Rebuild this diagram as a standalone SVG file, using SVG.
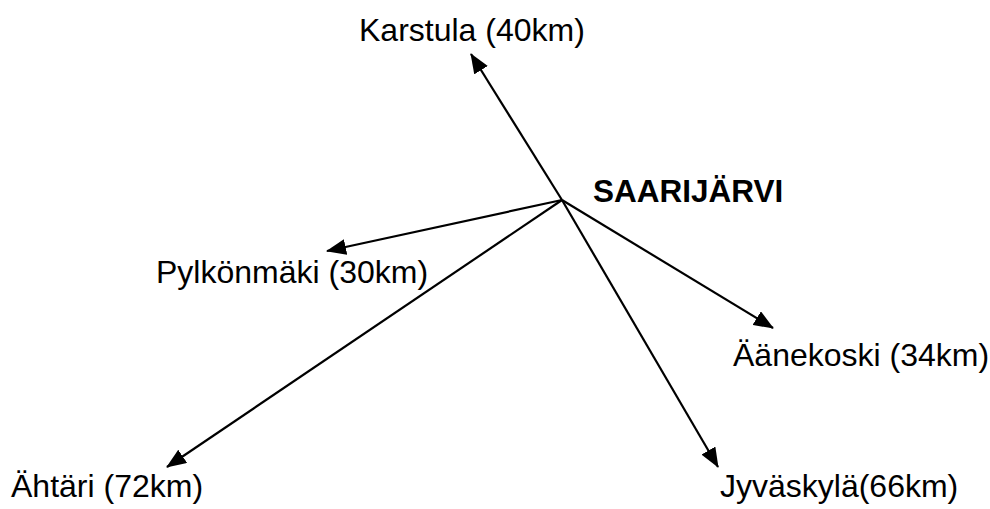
<svg xmlns="http://www.w3.org/2000/svg" width="990" height="509" viewBox="0 0 990 509">
<style>
.lbl{font-family:"Liberation Sans",Arial,sans-serif;font-size:32px;fill:#000}
.b{font-weight:bold;font-size:31.5px}
.c{stroke:#000;stroke-width:2.2;fill:none;marker-end:url(#ah)}
</style>
<defs>
<marker id="ah" markerUnits="userSpaceOnUse" markerWidth="20" markerHeight="16" refX="19" refY="8" orient="auto" viewBox="0 0 20 16">
<path d="M0,0 L20,8 L0,16 z" fill="#000"/>
</marker>
</defs>
<rect width="990" height="509" fill="#fff"/>
<g id="connectors">
<line class="c" x1="562" y1="200" x2="471" y2="54"/>
<line class="c" x1="562" y1="200" x2="327" y2="251"/>
<line class="c" x1="562" y1="200" x2="773" y2="328"/>
<line class="c" x1="562" y1="200" x2="718" y2="467"/>
<line class="c" x1="562" y1="200" x2="167" y2="467"/>
</g>
<g id="saarijarvi"><text class="lbl b" x="593" y="202">SAARIJÄRVI</text></g>
<g id="karstula"><text class="lbl" x="359" y="41">Karstula (40km)</text></g>
<g id="pylkonmaki"><text class="lbl" x="156" y="283">Pylkönmäki (30km)</text></g>
<g id="aanekoski"><text class="lbl" x="733" y="366">Äänekoski (34km)</text></g>
<g id="jyvaskyla"><text class="lbl" x="720" y="497">Jyväskylä(66km)</text></g>
<g id="ahtari"><text class="lbl" x="11" y="497">Ähtäri (72km)</text></g>
</svg>
